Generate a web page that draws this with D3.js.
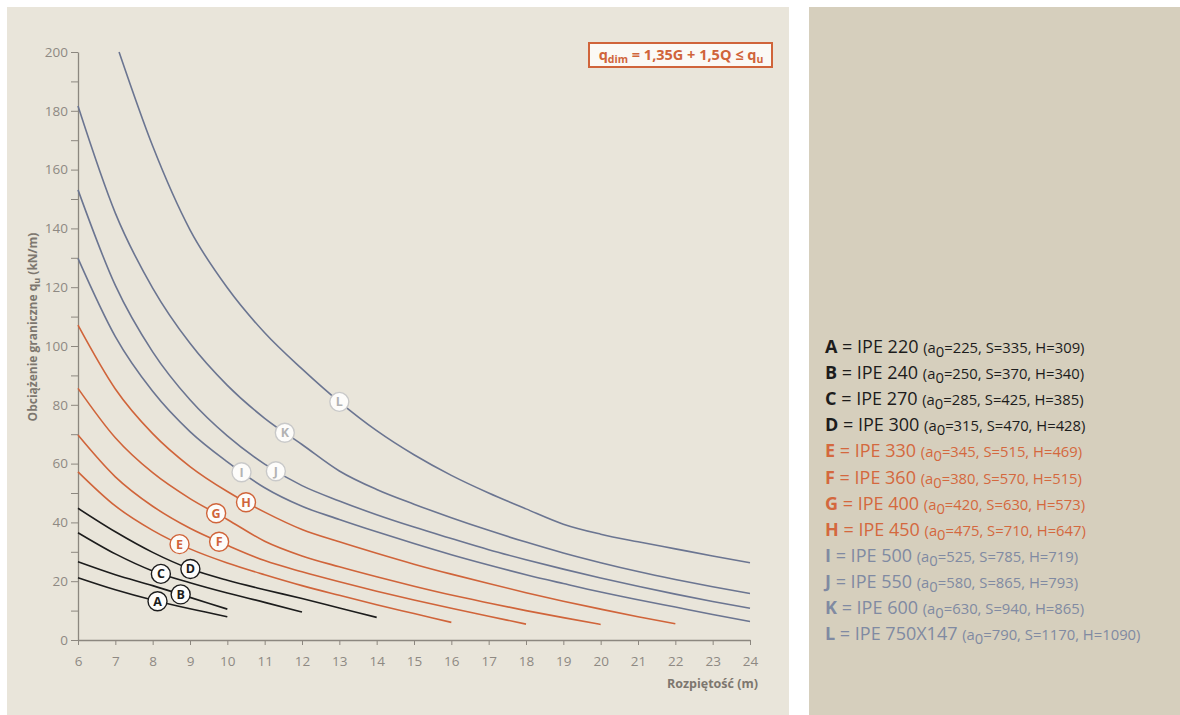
<!DOCTYPE html>
<html><head><meta charset="utf-8">
<script src="https://cdn.jsdelivr.net/npm/d3@7"></script>
<style>
body{margin:0;background:#fff;}
svg{display:block;font-family:"Open Sans","Noto Sans",sans-serif;}
text{white-space:pre;}
</style>
</head><body>
<svg id="chart" width="1180" height="715"></svg>
<script>
// ---------- data ----------
const xTickValues = [6,7,8,9,10,11,12,13,14,15,16,17,18,19,20,21,22,23,24];
const yTickValues = [0,10,20,30,40,50,60,70,80,90,100,110,120,130,140,150,160,170,180,190,200];
const yLabelValues = [0,20,40,60,80,100,120,140,160,180,200];

const seriesNames = ["A","B","C","D","E","F","G","H","I","J","K","L"];
const seriesGroup = ["black","black","black","black","orange","orange","orange","orange","blue","blue","blue","blue"];

const spansA = [6,7,8,9,10];
const valuesA = [21.2,17.1,13.6,10.6,7.9];
const spansB = [6,7,8,9,10];
const valuesB = [26.6,22.2,18.5,14.5,10.5];
const spansC = [6,7,8,9,10,11,12];
const valuesC = [36.5,29.3,23.5,19.5,16.0,12.8,9.5];
const spansD = [6,7,8,9,10,11,12,13,14];
const valuesD = [44.8,36.8,29.8,24.2,20.3,17.1,14.1,10.9,7.7];
const spansE = [6,7,8,9,10,11,12,13,14,15,16];
const valuesE = [57.2,45.6,37.3,31.0,26.2,22.2,18.5,15.2,12.0,9.0,6.0];
const spansF = [6,7,8,9,10,11,12,13,14,15,16,17,18];
const valuesF = [69.7,55.5,45.5,38.0,32.2,27.0,23.2,19.8,16.6,13.6,10.8,8.1,5.4];
const spansG = [6,7,8,9,10,11,12,13,14,15,16,17,18,19,20];
const valuesG = [85.6,68.8,56.9,48.1,41.0,33.6,28.6,24.9,21.5,18.3,15.3,12.6,10.0,7.6,5.3];
const spansH = [6,7,8,9,10,11,12,13,14,15,16,17,18,19,20,21,22];
const valuesH = [107.1,85.4,70.2,59.0,50.5,43.5,37.6,33.4,29.5,25.8,22.4,19.2,16.1,13.2,10.5,7.9,5.5];
const spansI = [6,7,8,9,10,11,12,13,14,15,16,17,18,19,20,21,22,23,24];
const valuesI = [129.8,103.2,84.6,70.9,60.6,51.8,45.5,41.0,36.8,32.8,29.0,25.5,22.2,19.2,16.3,13.7,11.2,8.7,6.3];
const spansJ = [6,7,8,9,10,11,12,13,14,15,16,17,18,19,20,21,22,23,24];
const valuesJ = [153.1,120.6,98.0,81.7,69.4,59.8,52.5,47.3,42.6,38.4,34.5,30.7,27.3,24.1,21.1,18.3,15.6,13.1,10.8];
const spansK = [6,7,8,9,10,11,12,13,14,15,16,17,18,19,20,21,22,23,24];
const valuesK = [181.6,145.2,119.7,100.9,86.6,75.4,66.5,57.5,51.2,46.2,41.6,37.3,33.3,29.6,26.3,23.3,20.6,18.1,15.8];
const spansL = [7.1,8,9,10,11,12,13,14,15,16,17,18,19,20,21,22,23,24];
const valuesL = [200,168,139.5,119.8,104.5,92.2,81.0,71.2,63.0,56.0,50.0,44.6,39.4,36.0,33.4,31.0,28.6,26.3];

const allSpans = [spansA,spansB,spansC,spansD,spansE,spansF,spansG,spansH,spansI,spansJ,spansK,spansL];
const allValues = [valuesA,valuesB,valuesC,valuesD,valuesE,valuesF,valuesG,valuesH,valuesI,valuesJ,valuesK,valuesL];

// span (m) where each letter marker sits on its curve
const markerSpan = [8.13,8.75,8.22,9.01,8.72,9.78,9.7,10.5,10.38,11.3,11.54,13.0];

const legendProfile = ["IPE 220","IPE 240","IPE 270","IPE 300","IPE 330","IPE 360","IPE 400","IPE 450","IPE 500","IPE 550","IPE 600","IPE 750X147"];
const legendA0 = [225,250,285,315,345,380,420,475,525,580,630,790];
const legendS = [335,370,425,470,515,570,630,710,785,865,940,1170];
const legendH = [309,340,385,428,469,515,573,647,719,793,865,1090];

const yTitle = "Obciążenie graniczne q";
const xTitle = "Rozpiętość (m)";

// ---------- styles ----------
const lineColor = {black:"#1c1c1c", orange:"#d0643a", blue:"#6b7591"};
const legendColor = {black:"#1c1c1c", orange:"#d4683e", blue:"#808aa2"};
const markerStroke = {black:"#1c1c1c", orange:"#d0643a", blue:"#c9c9c9"};
const markerText = {black:"#1c1c1c", orange:"#d0643a", blue:"#b3b3b3"};
const axisColor = "#8c877f";
const labelColor = "#8e8983";

const svg = d3.select("#chart");

// panels
svg.append("rect").attr("x",7).attr("y",7).attr("width",782).attr("height",708).attr("fill","#e9e5da");
svg.append("rect").attr("x",809).attr("y",7).attr("width",371).attr("height",708).attr("fill","#d6cfbd");

const x = d3.scaleLinear().domain([6,24]).range([78,750]);
const y = d3.scaleLinear().domain([0,200]).range([640,52]);

// y axis
const yAxis = svg.append("g").attr("transform","translate(78,0)")
  .call(d3.axisLeft(y).tickValues(yTickValues).tickSize(7).tickSizeOuter(0).tickPadding(3)
    .tickFormat(d => yLabelValues.includes(d) ? d : ""));
yAxis.select(".domain").attr("stroke",axisColor).attr("stroke-width",1.3);
yAxis.selectAll(".tick line").attr("stroke",axisColor).attr("stroke-width",1);
yAxis.selectAll(".tick text").attr("fill",labelColor).attr("font-size",13.5).attr("font-family","Open Sans");

// x axis
const xAxis = svg.append("g").attr("transform","translate(0,640)")
  .call(d3.axisBottom(x).tickValues(xTickValues).tickSize(5).tickSizeOuter(0));
xAxis.select(".domain").attr("stroke",axisColor).attr("stroke-width",1.3);
xAxis.selectAll(".tick line").attr("stroke",axisColor).attr("stroke-width",1);
xAxis.selectAll(".tick text").attr("fill",labelColor).attr("font-size",13.5).attr("font-family","Open Sans")
  .attr("y",26).attr("dy",0);

// axis titles
const yt = svg.append("text").attr("transform","translate(37,327) rotate(-90)")
  .attr("text-anchor","middle").attr("font-size",12).attr("font-weight","bold").attr("fill","#7d776f");
yt.append("tspan").text(yTitle);
yt.append("tspan").attr("font-size",9).attr("dy",3).text("u");
yt.append("tspan").attr("dy",-3).text(" (kN/m)");

svg.append("text").attr("x",758).attr("y",688).attr("text-anchor","end")
  .attr("font-size",12.5).attr("font-weight","bold").attr("fill","#7d776f").text(xTitle);

// curves
const line = d3.line().x(d => x(d[0])).y(d => y(d[1])).curve(d3.curveMonotoneX);
const paths = [];
seriesNames.forEach((name,i) => {
  const pts = allSpans[i].map((s,j) => [s, allValues[i][j]]);
  const p = svg.append("path").datum(pts).attr("d",line).attr("fill","none")
    .attr("stroke",lineColor[seriesGroup[i]]).attr("stroke-width",1.6);
  paths.push(p.node());
});

// markers
function pointAtX(node, px){
  let lo = 0, hi = node.getTotalLength();
  for (let k=0;k<40;k++){
    const mid=(lo+hi)/2;
    if (node.getPointAtLength(mid).x < px) lo = mid; else hi = mid;
  }
  return node.getPointAtLength((lo+hi)/2);
}
seriesNames.forEach((name,i) => {
  const pt = pointAtX(paths[i], x(markerSpan[i]));
  const g = svg.append("g").attr("transform",`translate(${pt.x},${pt.y})`);
  g.append("circle").attr("r",9.5).attr("fill","#fdfcfa")
    .attr("stroke",markerStroke[seriesGroup[i]]).attr("stroke-width",1.4);
  g.append("text").attr("text-anchor","middle").attr("dy","0.36em")
    .attr("font-size",12.5).attr("font-weight","bold").attr("fill",markerText[seriesGroup[i]]).text(name);
});

// formula box
svg.append("rect").attr("x",589).attr("y",43).attr("width",183).attr("height",24)
  .attr("fill","#fbf9f5").attr("stroke","#d0643a").attr("stroke-width",2);
const ft = svg.append("text").attr("x",681).attr("y",59.5).attr("text-anchor","middle")
  .attr("font-weight","bold").attr("font-size",14.5).attr("fill","#d0643a");
ft.append("tspan").text("q");
ft.append("tspan").attr("font-size",10.5).attr("dy",3.5).text("dim");
ft.append("tspan").attr("dy",-3.5).text(" = 1,35G + 1,5Q ≤ q");
ft.append("tspan").attr("font-size",10.5).attr("dy",3.5).text("u");

// legend
seriesNames.forEach((name,i) => {
  const c = legendColor[seriesGroup[i]];
  const t = svg.append("text").attr("x",825).attr("y",353 + i*26.1).attr("fill",c);
  t.append("tspan").attr("font-weight","bold").attr("font-size",18).text(name);
  t.append("tspan").attr("font-size",18).text(" = " + legendProfile[i] + " ");
  t.append("tspan").attr("font-size",14.8).text("(a");
  t.append("tspan").attr("font-size",14.8).attr("dy",4).text("0");
  t.append("tspan").attr("font-size",14.8).attr("dy",-4)
    .text("=" + legendA0[i] + ", S=" + legendS[i] + ", H=" + legendH[i] + ")");
});
</script>
</body></html>
